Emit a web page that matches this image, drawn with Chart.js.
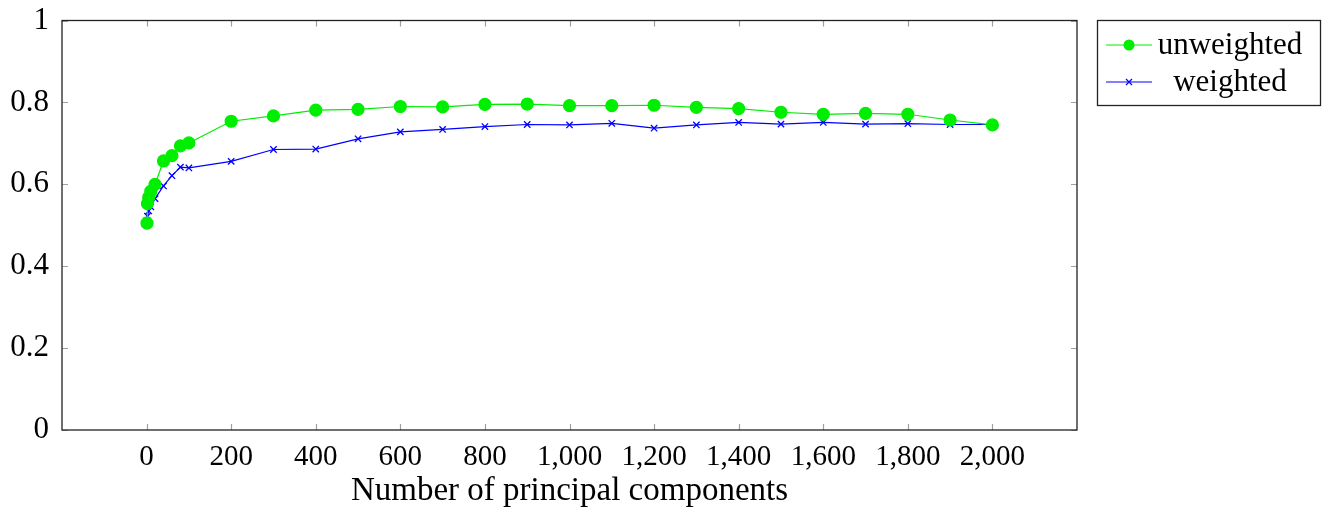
<!DOCTYPE html>
<html>
<head>
<meta charset="utf-8">
<script src="https://cdn.jsdelivr.net/npm/chart.js@4"></script>
<style>
  html, body { margin: 0; padding: 0; background: #fff; }
  #wrap { width: 1328px; height: 511px; }
</style>
</head>
<body>
<div id="wrap"><canvas id="chart"></canvas></div>
<script>
// data
const components = [1, 2, 5, 10, 20, 40, 60, 80, 100, 200, 300, 400, 500, 600, 700, 800, 900, 1000,
  1100, 1200, 1300, 1400, 1500, 1600, 1700, 1800, 1900, 2000];
const unweighted = [0.505, 0.553, 0.568, 0.583, 0.600, 0.657, 0.670, 0.694, 0.701, 0.754, 0.767, 0.781, 0.783,
  0.790, 0.789, 0.795, 0.796, 0.792, 0.792, 0.793, 0.788, 0.785, 0.776, 0.771, 0.773, 0.771, 0.757, 0.745];
const weighted = [0.512, 0.522, 0.535, 0.545, 0.565, 0.596, 0.621, 0.642, 0.640, 0.656, 0.685, 0.686, 0.711,
  0.728, 0.734, 0.741, 0.746, 0.745, 0.749, 0.737, 0.745, 0.751, 0.747, 0.751, 0.747, 0.748, 0.746, 0.746];
const xTicks = [0, 200, 400, 600, 800, 1000, 1200, 1400, 1600, 1800, 2000];
const yTicks = [0, 0.2, 0.4, 0.6, 0.8, 1];
const seriesNames = ['unweighted', 'weighted'];

const serif = '"Liberation Serif", "Times New Roman", serif';

function pts(ys) {
  return components.map((x, i) => ({ x: x, y: ys[i] }));
}

// frame, inward tick marks and the boxed legend
const pgfLook = {
  id: 'pgfLook',
  afterDatasetsDraw(chart) {
    const ctx = chart.ctx;
    const a = chart.chartArea;
    const xs = chart.scales.x, ys = chart.scales.y;
    ctx.save();
    ctx.strokeStyle = '#a0a0a0';
    ctx.lineWidth = 1.2;
    ctx.beginPath();
    xTicks.forEach(v => {
      const px = Math.round(xs.getPixelForValue(v)) + 0.5;
      ctx.moveTo(px, a.bottom); ctx.lineTo(px, a.bottom - 6);
      ctx.moveTo(px, a.top); ctx.lineTo(px, a.top + 6);
    });
    yTicks.forEach(v => {
      const py = Math.round(ys.getPixelForValue(v)) + 0.5;
      ctx.moveTo(a.left, py); ctx.lineTo(a.left + 6, py);
      ctx.moveTo(a.right, py); ctx.lineTo(a.right - 6, py);
    });
    ctx.stroke();

    ctx.strokeStyle = '#222';
    ctx.lineWidth = 1.3;
    ctx.strokeRect(a.left, a.top, a.right - a.left, a.bottom - a.top);

    // legend
    const lx = 1097, ly = 20, lw = 223, lh = 85;
    ctx.strokeRect(lx + 0.5, ly + 0.5, lw, lh);
    ctx.font = '31px ' + serif;
    ctx.textBaseline = 'middle';
    ctx.textAlign = 'center';
    chart.data.datasets.forEach((ds, i) => {
      const y = ly + 25 + i * 37;
      ctx.strokeStyle = ds.borderColor;
      ctx.lineWidth = 1.2;
      ctx.beginPath();
      ctx.moveTo(lx + 9, y); ctx.lineTo(lx + 55, y);
      ctx.stroke();
      if (ds.pointStyle === 'circle') {
        ctx.fillStyle = ds.pointBackgroundColor;
        ctx.beginPath();
        ctx.arc(lx + 32, y, 5.5, 0, Math.PI * 2);
        ctx.fill();
      } else {
        ctx.beginPath();
        ctx.moveTo(lx + 29, y - 3); ctx.lineTo(lx + 35, y + 3);
        ctx.moveTo(lx + 29, y + 3); ctx.lineTo(lx + 35, y - 3);
        ctx.stroke();
      }
      ctx.fillStyle = '#000';
      ctx.fillText(ds.label, lx + 133, y + 1);
    });
    ctx.restore();
  }
};

new Chart(document.getElementById('chart'), {
  type: 'line',
  data: {
    datasets: [{
      label: seriesNames[0],
      data: pts(unweighted),
      borderColor: '#00ee00',
      backgroundColor: '#00ee00',
      pointBackgroundColor: '#00ee00',
      pointBorderColor: '#00ee00',
      pointStyle: 'circle',
      pointRadius: 6,
      borderWidth: 1.2,
      tension: 0
    }, {
      label: seriesNames[1],
      data: pts(weighted),
      borderColor: '#0000ff',
      backgroundColor: '#0000ff',
      pointBorderColor: '#0000ff',
      pointStyle: 'crossRot',
      pointRadius: 4.5,
      pointBorderWidth: 1.3,
      borderWidth: 1.2,
      tension: 0
    }]
  },
  options: {
    responsive: true,
    maintainAspectRatio: false,
    animation: false,
    layout: { padding: { left: 0, right: 251, top: 20, bottom: 0 } },
    plugins: { legend: { display: false }, tooltip: { enabled: false } },
    scales: {
      x: {
        type: 'linear',
        min: -200,
        max: 2200,
        afterBuildTicks: s => { s.ticks = xTicks.map(v => ({ value: v })); },
        afterFit: s => { s.height = 81; },
        grid: { display: false },
        border: { display: false },
        ticks: {
          padding: 2,
          maxRotation: 0,
          autoSkip: false,
          color: '#000',
          font: { family: serif, size: 29 },
          callback: v => v.toLocaleString('en-US')
        },
        title: {
          display: true,
          text: 'Number of principal components',
          color: '#000',
          font: { family: serif, size: 33 },
          padding: { top: 3, bottom: 0 }
        }
      },
      y: {
        min: 0,
        max: 1,
        afterBuildTicks: s => { s.ticks = yTicks.map(v => ({ value: v })); },
        afterFit: s => { s.width = 62; },
        grid: { display: false },
        border: { display: false },
        ticks: {
          padding: 5,
          color: '#000',
          font: { family: serif, size: 31, lineHeight: 1 },
          callback: v => String(v)
        }
      }
    }
  },
  plugins: [pgfLook]
});
</script>
</body>
</html>
